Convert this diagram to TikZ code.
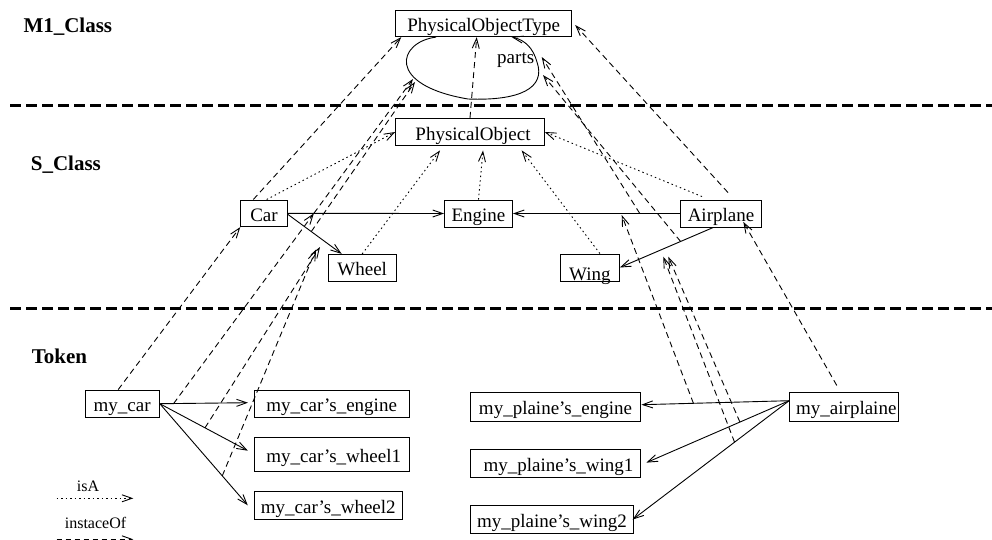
\documentclass[tikz,border=0pt]{standalone}
\usepackage{fontspec}
\setmainfont{Liberation Serif}
\usetikzlibrary{arrows.meta}

\tikzset{
  box/.style={draw, line width=0.9pt, inner sep=0pt, text height=16pt, text depth=0pt,
              font=\fontsize{19}{22}\selectfont},
  tip/.style={-{Straight Barb[length=10pt,width=7pt]}},
  relation/.style={tip, line width=0.9pt},
  isa/.style={tip, line width=0.9pt, dash pattern=on 1.5pt off 3pt},
  iof/.style={tip, line width=0.9pt, dash pattern=on 6pt off 4pt},
  layerline/.style={line width=3pt, dash pattern=on 11pt off 5pt},
  layername/.style={anchor=base west, inner sep=0pt, font=\fontsize{21}{24}\selectfont\bfseries},
  legendtext/.style={anchor=base, inner sep=0pt, font=\fontsize{16}{18}\selectfont},
  looplabel/.style={anchor=base, inner sep=0pt, font=\fontsize{19}{22}\selectfont},
}

\begin{document}
\begin{tikzpicture}[x=1pt, y=-1pt]
\useasboundingbox (0,0) rectangle (992,539);

% ---------- layer separators and layer names ----------
\coordinate (sepAL) at (10,105.3);  \coordinate (sepAR) at (992,105.3);
\coordinate (sepBL) at (10,308.3);  \coordinate (sepBR) at (992,308.3);
\draw[layerline] (sepAL) -- (sepAR);
\draw[layerline] (sepBL) -- (sepBR);

\node[layername] (lblM) at (23.3,32)  {M1\_Class};
\node[layername] (lblS) at (30.7,170) {S\_Class};
\node[layername] (lblT) at (31.7,363) {Token};

% ---------- M1 level ----------
\node[box, minimum width=176pt, minimum height=26.7pt] (pot) at (483.7,23.3) {PhysicalObjectType};

% the "parts" self relation
\draw[relation] ([xshift=-47.7pt]pot.south)
   .. controls (398,42) and (385,85) .. (468,99)
   .. controls (520,101) and (546,88) .. (537,62)
   .. controls (533,48) and (525,40) .. ([xshift=28pt]pot.south);
\node[looplabel] (parts) at (515.7,63) {parts};

\coordinate (loopA) at (413,79);
\coordinate (loopB) at (415,82);
\coordinate (loopC) at (541.7,57);
\coordinate (loopD) at (543,75);

% ---------- S level ----------
\node[box, minimum width=148.6pt, minimum height=27.4pt] (po) at (470,132) {\hspace*{6pt}PhysicalObject};
\node[box, minimum width=46.6pt, minimum height=26.7pt] (car) at (264,213.3) {Car};
\node[box, minimum width=68pt, minimum height=27pt] (engine) at (478.5,213.5) {Engine};
\node[box, minimum width=81pt, minimum height=27pt] (airplane) at (721,213.5) {Airplane};
\node[box, minimum width=67.7pt, minimum height=26.7pt] (wheel) at (362.2,267.7) {Wheel};
\node[box, minimum width=59pt, minimum height=27pt] (wing) at (589.9,267.5) {\raisebox{-5pt}{Wing}};

\draw[relation] (car.east) -- (engine.west) coordinate[pos=0.167] (ceLink);
\draw[relation] ([yshift=-1pt]car.east) -- ([xshift=-20.5pt]wheel.north) coordinate[pos=0.436] (cwLink);
\draw[relation] (airplane.west) -- (engine.east) coordinate[pos=0.241] (aeLink);
\draw[relation] ([xshift=-7.7pt]airplane.south) -- (wing.east) coordinate[pos=0.35] (awLink);

\coordinate (cwTipA) at (320,247);
\coordinate (cwTipB) at (316,249.5);
\coordinate (aeTip) at (621.7,215);
\coordinate (awTipA) at (668.3,256.7);
\coordinate (awTipB) at (663.3,256.7);

% isA
\draw[isa] ([xshift=2.7pt]car.north) -- (po.west);
\draw[isa] (wheel.north) -- ([shift={(-30pt,-4.3pt)}]po.south);
\draw[isa] (engine.north) -- ([shift={(13pt,-4.3pt)}]po.south);
\draw[isa] ([xshift=10pt]wing.north) -- ([shift={(51.7pt,-4.3pt)}]po.south);
\draw[isa] ([shift={(-19pt,3pt)}]airplane.north) -- (po.east);

% instanceOf between S and M1
\draw[iof] ([xshift=-10.7pt]car.north) -- ([xshift=6pt]pot.south west);
\draw[iof] (po.north) -- ([xshift=-7pt]pot.south);
\draw[iof] ([shift={(7pt,7pt)}]airplane.north) -- ([shift={(3pt,-1.7pt)}]pot.east);
\draw[iof] (ceLink) -- (loopA);
\draw[iof] (cwLink) -- (loopB);
\draw[iof] (aeLink) -- (loopC);
\draw[iof] (awLink) -- (loopD);

% ---------- Token level ----------
\node[box, minimum width=74.3pt, minimum height=27.3pt] (mycar) at (122.2,403.7) {my\_car};
\node[box, minimum width=155.3pt, minimum height=27.3pt] (mce) at (331.7,403.7) {my\_car’s\_engine};
\node[box, minimum width=155.3pt, minimum height=34pt] (mcw1) at (331.7,454.7) {\hspace*{4pt}my\_car’s\_wheel1};
\node[box, minimum width=148.7pt, minimum height=27.3pt] (mcw2) at (328.3,505.3) {my\_car’s\_wheel2};

\node[box, minimum width=169.5pt, minimum height=28.5pt] (mpe) at (555.5,406.7) {my\_plaine’s\_engine};
\node[box, minimum width=169.5pt, minimum height=28.5pt] (mpw1) at (555.5,463.3) {\hspace*{6pt}my\_plaine’s\_wing1};
\node[box, minimum width=162.5pt, minimum height=28.5pt] (mpw2) at (552,519.5) {my\_plaine’s\_wing2};
\node[box, minimum width=108.4pt, minimum height=28.5pt] (myair) at (843.8,406.7) {\hspace*{5pt}my\_airplaine};

\draw[relation] (mycar.east) -- ([xshift=-5.7pt,yshift=1pt]mce.west) coordinate[pos=0.157] (mceLink);
\draw[relation] (mycar.east) -- ([xshift=-5.7pt,yshift=4pt]mcw1.west) coordinate[pos=0.513] (mcw1Link);
\draw[relation] (mycar.east) -- ([xshift=-5.7pt]mcw2.west) coordinate[pos=0.71] (mcw2Link);

\draw[relation] ([yshift=6pt]myair.west) -- ([xshift=0.7pt,yshift=2pt]mpe.east) coordinate[pos=0.648] (mpeLink);
\draw[relation] ([yshift=6pt]myair.west) -- ([xshift=5.7pt,yshift=0.7pt]mpw1.east) coordinate[pos=0.345] (mpw1Link);
\draw[relation] ([yshift=6pt]myair.west) -- ([xshift=-1pt]mpw2.east) coordinate[pos=0.349] (mpw2Link);

% instanceOf between Token and S
\draw[iof] ([xshift=-4pt]mycar.north) -- (car.south west);
\draw[iof] (mceLink) -- (ceLink);
\draw[iof] (mcw1Link) -- (cwTipA);
\draw[iof] (mcw2Link) -- (cwTipB);
\draw[iof] ([shift={(-7pt,6.5pt)}]myair.north) -- ([shift={(22.3pt,5.6pt)}]airplane.south);
\draw[iof] (mpeLink) -- (aeTip);
\draw[iof] (mpw1Link) -- (awTipA);
\draw[iof] (mpw2Link) -- (awTipB);

% ---------- legend ----------
\node[legendtext] (isAtext) at (88,491.7) {isA};
\coordinate (isAfrom) at (56.7,498.3);  \coordinate (isAto) at (133.3,498.3);
\draw[isa] (isAfrom) -- (isAto);
\node[legendtext] (ioftext) at (95.5,528.3) {instaceOf};
\coordinate (ioffrom) at (56.7,539.3);  \coordinate (iofto) at (133.3,539.3);
\draw[iof, dash pattern=on 5pt off 4pt] (ioffrom) -- (iofto);

\end{tikzpicture}
\end{document}
